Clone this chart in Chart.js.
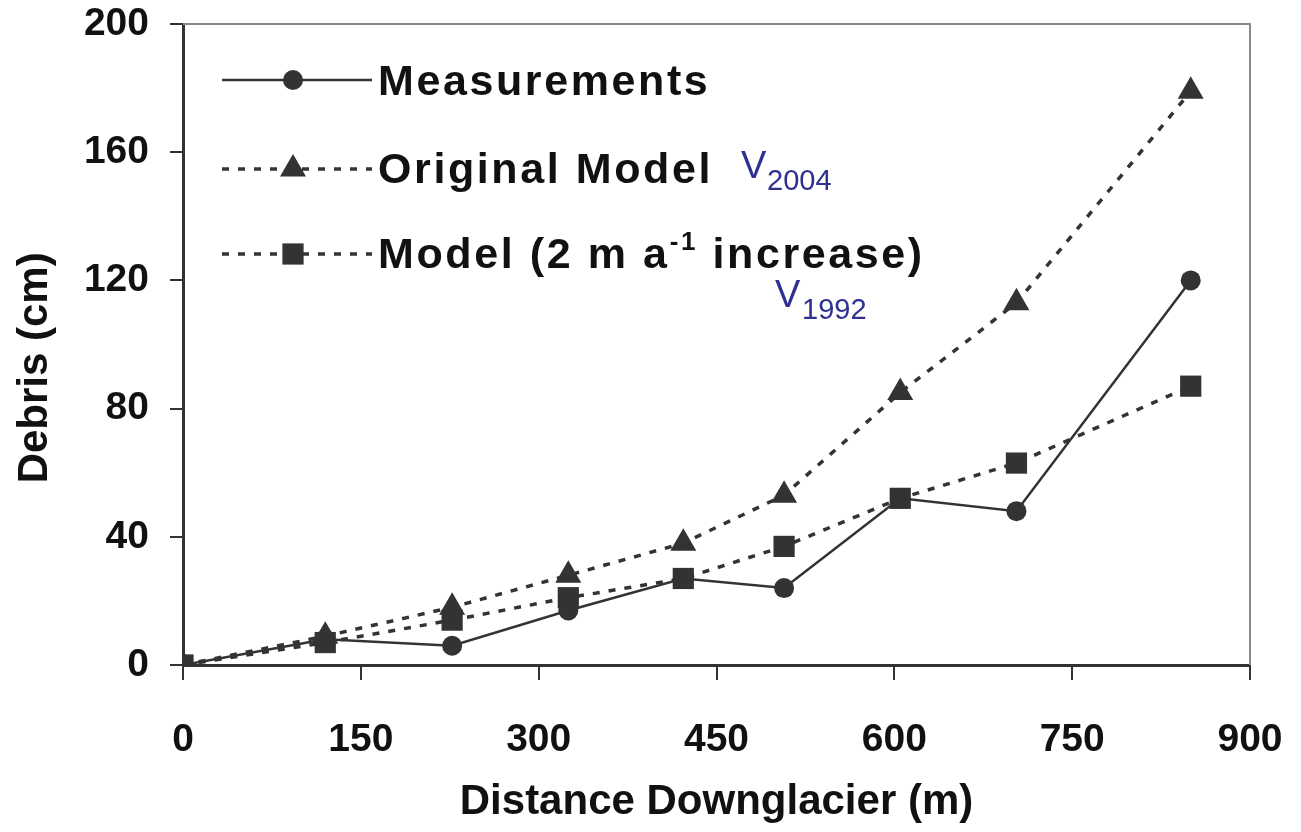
<!DOCTYPE html>
<html>
<head>
<meta charset="utf-8">
<script src="https://cdn.jsdelivr.net/npm/chart.js@4.4.0/dist/chart.umd.min.js"></script>
<style>
html, body { margin: 0; padding: 0; background: #fff; }
</style>
</head>
<body>
<canvas id="chart" width="1301" height="832"></canvas>
<script>
// distance downglacier (m), same stations for every series
var distance = [0, 120, 227, 325, 422, 507, 605, 703, 850];
var measurements = [0, 8, 6, 17, 27, 24, 52, 48, 120];
var originalModel = [0, 9, 18, 28, 38, 53, 85, 113, 179];
var model2m = [0, 7, 14, 21, 27, 37, 52, 63, 87];
var xTicks = [0, 150, 300, 450, 600, 750, 900];
var yTicks = [0, 40, 80, 120, 160, 200];

function toPoints(ys) {
  return distance.map(function (d, i) { return {x: d, y: ys[i]}; });
}

var ink = '#333333';
var textInk = '#111111';
var fontName = '"Liberation Sans", Arial, sans-serif';

// draws the box top/right, the legend and the blue notes
var extras = {
  id: 'extras',
  beforeDatasetsDraw: function (chart) {
    var ctx = chart.ctx, a = chart.chartArea;
    ctx.save();
    ctx.strokeStyle = '#8a8a8a';
    ctx.lineWidth = 2;
    ctx.beginPath();
    ctx.moveTo(a.left, a.top);
    ctx.lineTo(a.right, a.top);
    ctx.lineTo(a.right, a.bottom);
    ctx.stroke();
    ctx.restore();
  },
  afterDatasetsDraw: function (chart) {
    var ctx = chart.ctx;
    var rows = [80, 169, 254];
    ctx.save();
    chart.data.datasets.forEach(function (ds, i) {
      var y = rows[i];
      ctx.strokeStyle = ink;
      ctx.lineWidth = ds.borderWidth;
      ctx.setLineDash(ds.borderDash || []);
      ctx.beginPath();
      ctx.moveTo(222, y);
      ctx.lineTo(372, y);
      ctx.stroke();
      ctx.setLineDash([]);
      ctx.fillStyle = ink;
      Chart.helpers.drawPoint(ctx, {pointStyle: ds.pointStyle, radius: ds.pointRadius, rotation: 0, borderWidth: 0}, 293, y);
    });
    ctx.fillStyle = textInk;
    ctx.textBaseline = 'alphabetic';
    ctx.textAlign = 'left';
    ctx.letterSpacing = '2.6px';
    ctx.font = 'bold 43px ' + fontName;
    ctx.fillText('Measurements', 378, 95);
    ctx.fillText('Original Model', 378, 183);
    var t1 = 'Model (2 m a';
    ctx.fillText(t1, 378, 268);
    var w1 = ctx.measureText(t1).width;
    ctx.font = 'bold 26px ' + fontName;
    ctx.fillText('-1', 378 + w1, 250);
    var w2 = ctx.measureText('-1').width;
    ctx.font = 'bold 43px ' + fontName;
    ctx.fillText(' increase)', 378 + w1 + w2, 268);

    ctx.letterSpacing = '0px';
    ctx.fillStyle = '#2e3192';
    ctx.font = '38px ' + fontName;
    ctx.fillText('V', 741, 178);
    ctx.fillText('V', 775, 307);
    ctx.font = '29px ' + fontName;
    ctx.fillText('2004', 767, 190);
    ctx.fillText('1992', 802, 319);
    ctx.restore();
  }
};

var ctx = document.getElementById('chart').getContext('2d');
var chart = new Chart(ctx, {
  type: 'line',
  data: {
    datasets: [{
      label: 'Measurements',
      data: toPoints(measurements),
      borderColor: ink,
      backgroundColor: ink,
      borderWidth: 2.5,
      pointStyle: 'circle',
      pointRadius: 10,
      pointBorderWidth: 0,
      tension: 0
    }, {
      label: 'Original Model',
      data: toPoints(originalModel),
      borderColor: ink,
      backgroundColor: ink,
      borderWidth: 3.5,
      borderDash: [7, 9],
      pointStyle: 'triangle',
      pointRadius: 15,
      pointBorderWidth: 0,
      tension: 0
    }, {
      label: 'Model (2 m a-1 increase)',
      data: toPoints(model2m),
      borderColor: ink,
      backgroundColor: ink,
      borderWidth: 3.5,
      borderDash: [7, 9],
      pointStyle: 'rect',
      pointRadius: 15,
      pointBorderWidth: 0,
      tension: 0
    }]
  },
  options: {
    responsive: false,
    animation: false,
    layout: {padding: {left: 0, right: 51, top: 24, bottom: 0}},
    plugins: {legend: {display: false}, tooltip: {enabled: false}},
    scales: {
      x: {
        type: 'linear',
        min: 0,
        max: 900,
        afterBuildTicks: function (s) { s.ticks = xTicks.map(function (v) { return {value: v}; }); },
        afterFit: function (s) { s.height = 167; s.paddingLeft = 0; s.paddingRight = 0; },
        ticks: {color: textInk, font: {family: fontName, size: 39, weight: 'bold'}, padding: 37, maxRotation: 0},
        grid: {drawOnChartArea: false, drawTicks: true, tickLength: 15, color: ink, lineWidth: 2},
        border: {display: true, color: ink, width: 3},
        title: {display: true, text: 'Distance Downglacier (m)', color: textInk,
                font: {family: fontName, size: 42, weight: 'bold'}, padding: {top: 0, bottom: 4}}
      },
      y: {
        min: 0,
        max: 200,
        afterBuildTicks: function (s) { s.ticks = yTicks.map(function (v) { return {value: v}; }); },
        afterFit: function (s) { s.width = 183; s.paddingTop = 0; s.paddingBottom = 0; },
        ticks: {color: textInk, font: {family: fontName, size: 39, weight: 'bold'}, padding: 21},
        grid: {drawOnChartArea: false, drawTicks: true, tickLength: 13, color: ink, lineWidth: 2},
        border: {display: true, color: ink, width: 3},
        // trailing spaces push the visible title down a little, as in the original
        title: {display: true, text: 'Debris (cm)    ', color: textInk,
                font: {family: fontName, size: 42, weight: 'bold'}, padding: {top: 10, bottom: 0}}
      }
    }
  },
  plugins: [extras]
});
</script>
</body>
</html>
